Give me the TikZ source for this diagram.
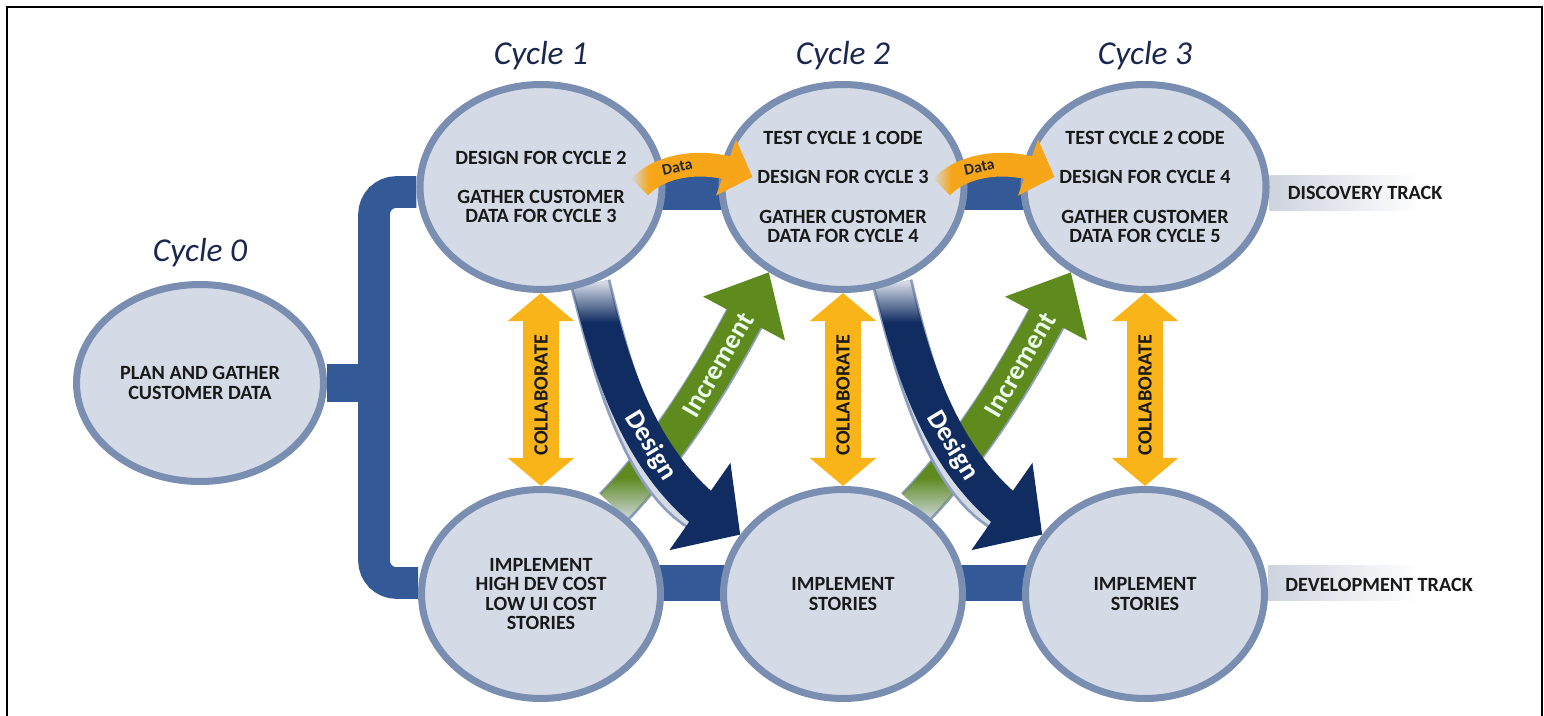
\documentclass[tikz,border=0pt]{standalone}
\usepackage{fontspec}
\setmainfont{Carlito}
\usetikzlibrary{shapes.geometric,arrows.meta,bending,fadings}

\definecolor{cellfill}{RGB}{212,219,231}
\definecolor{cellring}{RGB}{122,142,178}
\definecolor{trackblue}{RGB}{52,89,151}
\definecolor{navy}{RGB}{16,44,96}
\definecolor{leafgreen}{RGB}{94,138,30}
\definecolor{collabgold}{RGB}{248,180,24}
\definecolor{dataorange}{RGB}{246,166,24}
\definecolor{cycleblue}{RGB}{26,40,80}
\definecolor{bandgray}{RGB}{206,211,221}

\pgfdeclarelayer{bg}
\pgfsetlayers{bg,main}

% fadings (the path box is the inner 50bp square)
\begin{tikzfadingfrompicture}[name=fade top]
  \fill[transparent!0] (-50bp,-50bp) rectangle (50bp,50bp);
  \shade[top color=transparent!100, bottom color=transparent!0] (-50bp,15bp) rectangle (50bp,22bp);
  \fill[transparent!100] (-50bp,22bp) rectangle (50bp,50bp);
\end{tikzfadingfrompicture}
\begin{tikzfadingfrompicture}[name=fade bottom]
  \fill[transparent!0] (-50bp,-50bp) rectangle (50bp,50bp);
  \shade[top color=transparent!0, bottom color=transparent!100] (-50bp,-24bp) rectangle (50bp,-16bp);
  \fill[transparent!100] (-50bp,-50bp) rectangle (50bp,-24bp);
\end{tikzfadingfrompicture}
\begin{tikzfadingfrompicture}[name=fade left]
  \fill[transparent!0] (-50bp,-50bp) rectangle (50bp,50bp);
  \shade[left color=transparent!100, right color=transparent!0] (-24bp,-50bp) rectangle (-17bp,50bp);
  \fill[transparent!100] (-50bp,-50bp) rectangle (-24bp,50bp);
\end{tikzfadingfrompicture}

\tikzset{
  stage/.style={ellipse, draw=cellring, line width=4pt, fill=cellfill, inner sep=0pt,
    align=center, text=black!90, font=\fontsize{11.5}{11}\selectfont\bfseries},
  upper/.style={stage, minimum width=4.74cm, minimum height=4.10cm},
  lower/.style={stage, minimum width=4.78cm, minimum height=4.18cm},
  cyclelabel/.style={text=cycleblue, font=\fontsize{19}{19}\selectfont\itshape},
  tracklabel/.style={anchor=west, inner sep=0pt, text=black!90, font=\fontsize{11.5}{11}\selectfont\bfseries},
  track/.style={draw=trackblue, line width=20pt},
  trackband/.style={left color=bandgray, right color=white},
  collab/.style={draw=collabgold, line width=20pt,
    {Triangle[width=37pt,length=16pt]}-{Triangle[width=37pt,length=16pt]}},
  collabtext/.style={text=black!90, font=\fontsize{11.5}{11}\selectfont\bfseries},
  underlay/.style={draw=cellring!85, double=cellfill, double distance=20pt, line width=1.6pt},
  designarrow/.style={draw=navy, line width=21.5pt, -{Triangle[width=59pt,length=28pt]}, path fading=fade top},
  incarrow/.style={draw=leafgreen, line width=21.5pt, -{Triangle[width=51pt,length=30pt]}, path fading=fade bottom},
  dataarrow/.style={draw=dataorange, line width=13.5pt, -{Triangle[width=33pt,length=16pt]}, path fading=fade left},
  arrowtext/.style={text=white!92!green, font=\fontsize{15.5}{15}\selectfont\bfseries},
  datatext/.style={text=black!85, font=\fontsize{9}{9}\selectfont\bfseries}
}

\begin{document}
\begin{tikzpicture}[x=0.02cm, y=-0.02cm]
  \useasboundingbox (0,0) rectangle (1544,716);
  \draw[line width=1.1pt] (7,730) -- (7,7) -- (1542,7) -- (1542,730);

  % Cycle 0
  \node[stage, minimum width=4.94cm, minimum height=3.94cm] (c0) at (200,383) {PLAN AND GATHER\\CUSTOMER DATA};
  \coordinate (spine) at (374,383);

  % Discovery track
  \node[upper] (d1) at (541,187) {DESIGN FOR CYCLE 2\\[11pt]GATHER CUSTOMER\\DATA FOR CYCLE 3};
  \node[upper] (d2) at (843,187) {TEST CYCLE 1 CODE\\[11.5pt]DESIGN FOR CYCLE 3\\[11.5pt]GATHER CUSTOMER\\DATA FOR CYCLE 4};
  \node[upper] (d3) at (1145,187) {TEST CYCLE 2 CODE\\[11.5pt]DESIGN FOR CYCLE 4\\[11.5pt]GATHER CUSTOMER\\DATA FOR CYCLE 5};

  % Development track
  \node[lower] (v1) at (541,594) {IMPLEMENT\\HIGH DEV COST\\LOW UI COST\\STORIES};
  \node[lower] (v2) at (843,594) {IMPLEMENT\\STORIES};
  \node[lower] (v3) at (1145,594) {IMPLEMENT\\STORIES};

  % Cycle labels
  \node[cyclelabel] (l0) at ([yshift=0.56cm]c0.north) {Cycle 0};
  \foreach \i in {1,2,3}
    \node[cyclelabel] (l\i) at ([yshift=0.5cm]d\i.north) {Cycle \i};

  \node[tracklabel] (disc) at ([xshift=0.36cm,yshift=-0.12cm]d3.east) {DISCOVERY TRACK};
  \node[tracklabel] (devel) at ([xshift=0.34cm,yshift=0.18cm]v3.east) {DEVELOPMENT TRACK};

  \begin{pgfonlayer}{bg}
    % Tracks
    \draw[track, line width=22pt] (c0.east) -- (spine);
    \draw[track, line width=18pt, rounded corners=0.45cm] ([yshift=-0.1cm]d1.west) -| (spine) |- ([yshift=0.22cm]v1.west);
    \draw[track] ([yshift=-0.1cm]d1.center) -- ([yshift=-0.1cm]d3.center);
    \draw[track, line width=21pt] ([yshift=0.22cm]v1.center) -- ([yshift=0.22cm]v3.center);
    \shade[trackband] ([yshift=0.24cm]d3.east) rectangle ++(150,35);
    \shade[trackband] ([yshift=0.58cm]v3.east) rectangle ++(150,35);

    % Collaborate
    \foreach \i in {1,2,3}
      \draw[collab] (d\i.south) -- (v\i.north) node[pos=0.53, rotate=90, collabtext] {COLLABORATE};

    % Increment and Design
    \foreach \a/\b in {1/2,2/3} {
      \draw[underlay, shorten >=0.9cm] (v\a.50) .. controls +(65,-68) and +(-45,85) .. (d\b.-131);
      \draw[incarrow] (v\a.50) .. controls +(65,-68) and +(-45,85) .. (d\b.-131)
        node[pos=0.63, sloped, arrowtext] {Increment};
      \draw[underlay, shorten >=0.85cm] (d\a.-63) .. controls +(20,80) and +(-100,-55) .. (v\b.150);
      \draw[designarrow] (d\a.-63) .. controls +(20,80) and +(-100,-55) .. (v\b.150)
        node[pos=0.6, sloped, arrowtext, text=white] {Design};
    }
  \end{pgfonlayer}

  % Data
  \foreach \a/\b in {1/2,2/3}
    \draw[dataarrow] ([xshift=-0.52cm]d\a.east) .. controls +(20,-22) and +(-45,-22) .. ([xshift=0.68cm,yshift=0.2cm]d\b.west)
      node[pos=0.42, sloped, datatext] {Data};
\end{tikzpicture}
\end{document}
